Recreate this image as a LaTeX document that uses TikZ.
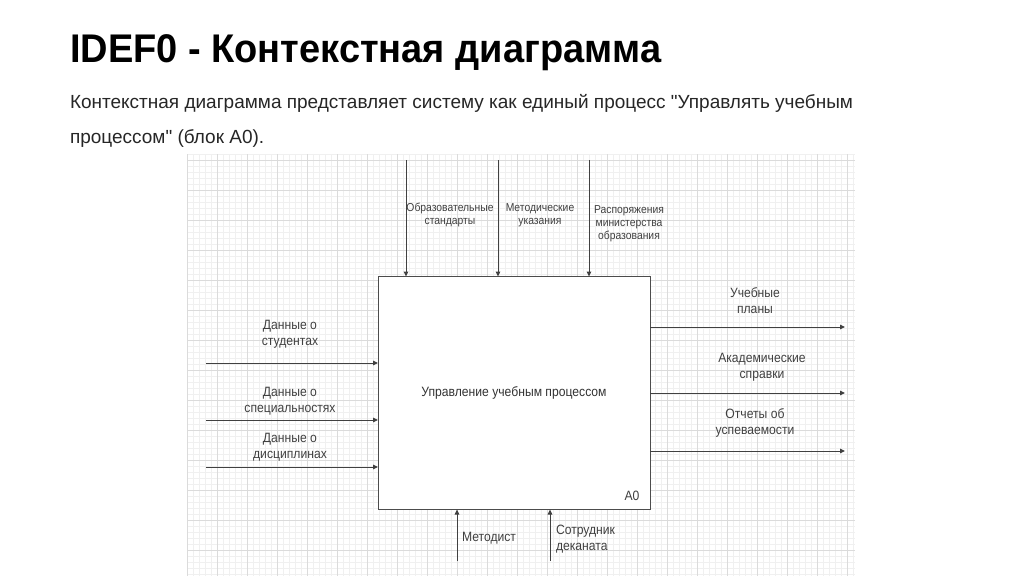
\documentclass[tikz,border=0pt]{standalone}
\usepackage{fontspec}
\setmainfont{Liberation Sans}
\newfontfamily\titlefont[FakeStretch=0.95]{Liberation Sans}
\newfontfamily\narrowfont[FakeStretch=0.9]{Liberation Sans}
\newfontfamily\parafont{Liberation Sans}
\usetikzlibrary{arrows.meta,positioning}

\begin{document}
\begin{tikzpicture}[
    x=1pt, y=-1pt,
    every node/.style={inner sep=0pt, outer sep=0pt},
    minorline/.style={black!6, line width=0.5pt},
    majorline/.style={black!14, line width=0.6pt},
    block/.style={draw=black!70, line width=1pt, fill=white, minimum width=272pt, minimum height=233pt,
        font=\narrowfont\fontsize{13.5}{16}\selectfont, text=black!80},
    flow/.style={-{Triangle[length=5pt, width=4.5pt]}, line width=1pt, black!75},
    lbl/.style={font=\narrowfont\fontsize{13.5}{16}\selectfont, text=black!75, align=center},
    toplbl/.style={font=\narrowfont\fontsize{11.5}{13}\selectfont, text=black!75, align=center},
    headline/.style={font=\titlefont\bfseries\fontsize{40}{40}\selectfont, anchor=base west},
    para/.style={font=\parafont\fontsize{19}{22}\selectfont, text=black!85, anchor=base west}
]
\useasboundingbox (0,0) rectangle (1024,576);

% Title and text
\node[headline] (title) at (70,62) {IDEF0 - Контекстная диаграмма};
\node[para] (para1) at (70,108) {Контекстная диаграмма представляет систему как единый процесс "Управлять учебным};
\node[para] (para2) at (70,143) {процессом" (блок А0).};

% Grid paper
\foreach \x in {187,193,...,855} {
    \draw[minorline] (\x,154) -- (\x,576);
}
\foreach \y in {154,160,...,576} {
    \draw[minorline] (187,\y) -- (855,\y);
}
\foreach \x in {187,217,...,855} {
    \draw[majorline] (\x,154) -- (\x,576);
}
\foreach \y in {160,190,...,576} {
    \draw[majorline] (187,\y) -- (855,\y);
}

% Block A0
\node[block] (a0) at (514,393) {Управление учебным процессом};
\node[lbl] (a0num) at (632,496) {А0};

% Controls (top)
\coordinate (ctl1) at (406,160);
\coordinate (ctl2) at (498,160);
\coordinate (ctl3) at (589,160);
\draw[flow] (ctl1) -- (ctl1 |- a0.north);
\draw[flow] (ctl2) -- (ctl2 |- a0.north);
\draw[flow] (ctl3) -- (ctl3 |- a0.north);
\node[toplbl] (ctl1lbl) at (450,215) {Образовательные\\стандарты};
\node[toplbl] (ctl2lbl) at (540,215) {Методические\\указания};
\node[toplbl] (ctl3lbl) at (629,224) {Распоряжения\\министерства\\образования};

% Inputs (left)
\coordinate (in1) at (206,363);
\coordinate (in2) at (206,420);
\coordinate (in3) at (206,467);
\draw[flow] (in1) -- (in1 -| a0.west);
\draw[flow] (in2) -- (in2 -| a0.west);
\draw[flow] (in3) -- (in3 -| a0.west);
\node[lbl] (in1lbl) at (290,334) {Данные о\\студентах};
\node[lbl] (in2lbl) at (290,401) {Данные о\\специальностях};
\node[lbl] (in3lbl) at (290,447) {Данные о\\дисциплинах};

% Outputs (right)
\coordinate (out1) at (845,327);
\coordinate (out2) at (845,393);
\coordinate (out3) at (845,451);
\draw[flow] (out1 -| a0.east) -- (out1);
\draw[flow] (out2 -| a0.east) -- (out2);
\draw[flow] (out3 -| a0.east) -- (out3);
\node[lbl] (out1lbl) at (755,301) {Учебные\\планы};
\node[lbl] (out2lbl) at (762,367) {Академические\\справки};
\node[lbl] (out3lbl) at (755,423) {Отчеты об\\успеваемости};

% Mechanisms (bottom)
\coordinate (mech1) at (457,561);
\coordinate (mech2) at (550,561);
\draw[flow] (mech1) -- (mech1 |- a0.south);
\draw[flow] (mech2) -- (mech2 |- a0.south);
\node[lbl, anchor=west] (mech1lbl) at (462,538) {Методист};
\node[lbl, anchor=west, align=left] (mech2lbl) at (556,539) {Сотрудник\\деканата};

\end{tikzpicture}
\end{document}
